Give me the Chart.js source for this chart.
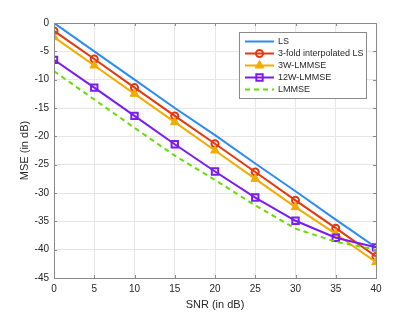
<!DOCTYPE html>
<html lang="en">
<head>
<meta charset="UTF-8">
<title>MSE vs SNR</title>
<script src="https://cdn.jsdelivr.net/npm/chart.js@4"></script>
<style>
    html, body { margin: 0; padding: 0; background: #fff; }
    #wrap { width: 415px; height: 312px; }
</style>
</head>
<body>
<div id="wrap"><canvas id="mseChart"></canvas></div>
<script>
// values
const snr = [0, 5, 10, 15, 20, 25, 30, 35, 40];
const lsMse = [0, -5, -10, -15, -19.8, -24.8, -29.7, -34.7, -39.6];
const interpLsMse = [-1.4, -6.35, -11.4, -16.4, -21.3, -26.3, -31.3, -36.2, -41.2];
const w3Mse = [-2.5, -7.5, -12.5, -17.5, -22.5, -27.5, -32.5, -37.2, -42.2];
const w12Mse = [-6.5, -11.4, -16.4, -21.4, -26.2, -30.8, -34.9, -37.9, -39.6];
const lmmseMse = [-8.5, -13.5, -18.5, -23.4, -27.7, -32.2, -36.3, -38.6, -40.0];
const yTicks = [0, -5, -10, -15, -20, -25, -30, -35, -40, -45];

const fontFamily = '"Liberation Sans", Arial, sans-serif';
const axisColor = '#8a8a8a';

const toXY = vals => vals.map((v, i) => ({ x: snr[i], y: v }));

const datasets = [{
    label: 'LS',
    data: toXY(lsMse),
    borderColor: '#2a8cf2',
    borderWidth: 2,
    pointRadius: 0,
    order: 5
}, {
    label: '3-fold interpolated LS',
    data: toXY(interpLsMse),
    borderColor: '#e5360e',
    borderWidth: 2,
    pointStyle: 'circle',
    pointRadius: 3.5,
    pointBorderWidth: 2,
    pointBackgroundColor: 'rgba(255,255,255,0)',
    order: 4
}, {
    label: '3W-LMMSE',
    data: toXY(w3Mse),
    borderColor: '#f0ad00',
    backgroundColor: '#f0ad00',
    borderWidth: 2,
    pointStyle: 'triangle',
    pointRadius: 5,
    pointBorderWidth: 1,
    pointBackgroundColor: '#f0ad00',
    order: 3
}, {
    label: '12W-LMMSE',
    data: toXY(w12Mse),
    borderColor: '#7a1cf0',
    borderWidth: 2,
    pointStyle: 'rect',
    pointRadius: 4.5,
    pointBorderWidth: 2,
    pointBackgroundColor: 'rgba(255,255,255,0)',
    order: 2
}, {
    label: 'LMMSE',
    data: toXY(lmmseMse),
    borderColor: '#66dd00',
    borderWidth: 2,
    borderDash: [5, 4],
    pointRadius: 0,
    order: 1
}];

// box around the axes, inward ticks, and the legend inside the plot
const matlabBox = {
    id: 'matlabBox',
    afterDatasetsDraw(chart) {
        const { ctx, chartArea: a, scales } = chart;
        ctx.save();
        ctx.strokeStyle = axisColor;
        ctx.lineWidth = 1;
        ctx.strokeRect(a.left + 0.5, a.top + 0.5, a.right - a.left, a.bottom - a.top);
        ctx.beginPath();
        const tl = 3;
        snr.forEach(v => {
            const px = Math.round(scales.x.getPixelForValue(v)) + 0.5;
            ctx.moveTo(px, a.bottom); ctx.lineTo(px, a.bottom - tl);
            ctx.moveTo(px, a.top); ctx.lineTo(px, a.top + tl);
        });
        yTicks.forEach(v => {
            const py = Math.round(scales.y.getPixelForValue(v)) + 0.5;
            ctx.moveTo(a.left, py); ctx.lineTo(a.left + tl, py);
            ctx.moveTo(a.right, py); ctx.lineTo(a.right - tl, py);
        });
        ctx.stroke();

        // legend
        const bw = 127, bh = 66;
        const bx = a.right - 10 - bw, by = a.top + 9;
        ctx.fillStyle = '#fff';
        ctx.fillRect(bx, by, bw, bh);
        ctx.strokeStyle = '#8a8a8a';
        ctx.strokeRect(bx + 0.5, by + 0.5, bw, bh);
        ctx.font = '9px ' + fontFamily;
        ctx.textBaseline = 'middle';
        chart.data.datasets.forEach((ds, i) => {
            const y = by + 9.5 + i * 12;
            const x0 = bx + 6, x1 = bx + 35;
            ctx.save();
            ctx.strokeStyle = ds.borderColor;
            ctx.lineWidth = 2;
            ctx.setLineDash(ds.borderDash || []);
            ctx.beginPath();
            ctx.moveTo(x0, y); ctx.lineTo(x1, y);
            ctx.stroke();
            if (ds.pointRadius > 0) {
                ctx.setLineDash([]);
                ctx.fillStyle = ds.pointBackgroundColor;
                ctx.lineWidth = ds.pointBorderWidth;
                Chart.helpers.drawPoint(ctx, {
                    pointStyle: ds.pointStyle,
                    radius: ds.pointRadius,
                    rotation: 0,
                    borderWidth: ds.pointBorderWidth
                }, (x0 + x1) / 2, y);
            }
            ctx.restore();
            ctx.fillStyle = '#262626';
            ctx.fillText(ds.label, bx + 39, y + 0.5);
        });
        ctx.restore();
    }
};

new Chart(document.getElementById('mseChart'), {
    type: 'line',
    data: { datasets: datasets },
    plugins: [matlabBox],
    options: {
        responsive: true,
        maintainAspectRatio: false,
        animation: false,
        layout: { padding: { top: 23, right: 39, bottom: 0, left: 0 } },
        plugins: {
            legend: { display: false },
            tooltip: { enabled: false }
        },
        scales: {
            x: {
                type: 'linear',
                min: 0,
                max: 40,
                ticks: {
                    stepSize: 5,
                    color: '#262626',
                    font: { size: 10, family: fontFamily },
                    padding: 5,
                    maxRotation: 0
                },
                grid: { color: '#e6e6e6', drawTicks: false },
                border: { color: axisColor },
                title: {
                    display: true,
                    text: 'SNR (in dB)',
                    color: '#262626',
                    font: { size: 11, family: fontFamily },
                    padding: { top: 0, bottom: 0 }
                },
                afterFit: s => { s.height = 34; }
            },
            y: {
                min: -45,
                max: 0,
                ticks: {
                    stepSize: 5,
                    color: '#262626',
                    font: { size: 10, family: fontFamily },
                    padding: 5
                },
                grid: { color: '#e6e6e6', drawTicks: false },
                border: { color: axisColor },
                title: {
                    display: true,
                    text: 'MSE (in dB)',
                    color: '#262626',
                    font: { size: 11, family: fontFamily },
                    padding: { top: 18, bottom: 0 }
                },
                afterFit: s => { s.width = 54; }
            }
        }
    }
});
</script>
</body>
</html>
